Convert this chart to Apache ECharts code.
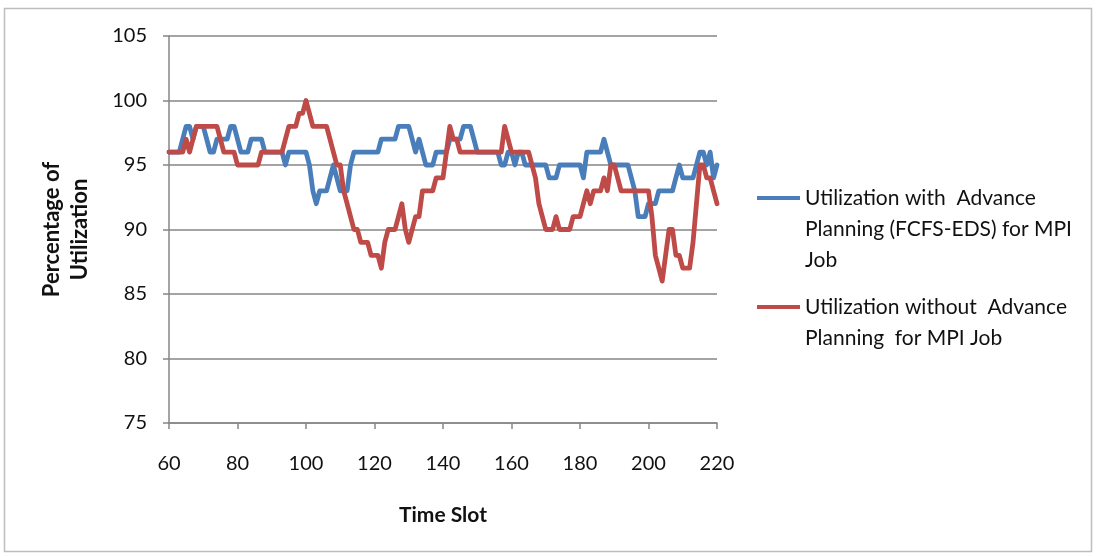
<!DOCTYPE html>
<html>
<head>
<meta charset="utf-8">
<title>Utilization for MPI Job</title>
<script src="https://cdn.jsdelivr.net/npm/echarts@6/dist/echarts.min.js"></script>
<style>
  html, body { margin: 0; padding: 0; background: #ffffff; }
  #chart { width: 1097px; height: 556px; }
</style>
</head>
<body>
<div id="chart"></div>
<script>
// Time slots on the horizontal axis
const timeSlots = [
  60, 61, 62, 63, 64, 65, 66, 67, 68, 69,
  70, 71, 72, 73, 74, 75, 76, 77, 78, 79,
  80, 81, 82, 83, 84, 85, 86, 87, 88, 89,
  90, 91, 92, 93, 94, 95, 96, 97, 98, 99,
  100, 101, 102, 103, 104, 105, 106, 107, 108, 109,
  110, 111, 112, 113, 114, 115, 116, 117, 118, 119,
  120, 121, 122, 123, 124, 125, 126, 127, 128, 129,
  130, 131, 132, 133, 134, 135, 136, 137, 138, 139,
  140, 141, 142, 143, 144, 145, 146, 147, 148, 149,
  150, 151, 152, 153, 154, 155, 156, 157, 158, 159,
  160, 161, 162, 163, 164, 165, 166, 167, 168, 169,
  170, 171, 172, 173, 174, 175, 176, 177, 178, 179,
  180, 181, 182, 183, 184, 185, 186, 187, 188, 189,
  190, 191, 192, 193, 194, 195, 196, 197, 198, 199,
  200, 201, 202, 203, 204, 205, 206, 207, 208, 209,
  210, 211, 212, 213, 214, 215, 216, 217, 218, 219,
  220
];

// Utilization (%) with advance planning (FCFS-EDS)
const withPlanning = [
  96, 96, 96, 96, 97, 98, 98, 97, 98, 98,
  98, 97, 96, 96, 97, 97, 97, 97, 98, 98,
  97, 96, 96, 96, 97, 97, 97, 97, 96, 96,
  96, 96, 96, 96, 95, 96, 96, 96, 96, 96,
  96, 95, 93, 92, 93, 93, 93, 94, 95, 94,
  93, 93, 93, 95, 96, 96, 96, 96, 96, 96,
  96, 96, 97, 97, 97, 97, 97, 98, 98, 98,
  98, 97, 96, 97, 96, 95, 95, 95, 96, 96,
  96, 96, 97, 97, 97, 97, 98, 98, 98, 97,
  96, 96, 96, 96, 96, 96, 96, 95, 95, 96,
  96, 95, 96, 96, 95, 95, 95, 95, 95, 95,
  95, 94, 94, 94, 95, 95, 95, 95, 95, 95,
  95, 94, 96, 96, 96, 96, 96, 97, 96, 95,
  95, 95, 95, 95, 95, 94, 93, 91, 91, 91,
  92, 92, 92, 93, 93, 93, 93, 93, 94, 95,
  94, 94, 94, 94, 95, 96, 96, 95, 96, 94,
  95
];

// Utilization (%) without advance planning
const withoutPlanning = [
  96, 96, 96, 96, 96, 97, 96, 97, 98, 98,
  98, 98, 98, 98, 98, 97, 96, 96, 96, 96,
  95, 95, 95, 95, 95, 95, 95, 96, 96, 96,
  96, 96, 96, 96, 97, 98, 98, 98, 99, 99,
  100, 99, 98, 98, 98, 98, 98, 97, 96, 95,
  95, 93, 92, 91, 90, 90, 89, 89, 89, 88,
  88, 88, 87, 89, 90, 90, 90, 91, 92, 90,
  89, 90, 91, 91, 93, 93, 93, 93, 94, 94,
  94, 96, 98, 97, 97, 96, 96, 96, 96, 96,
  96, 96, 96, 96, 96, 96, 96, 96, 98, 97,
  96, 96, 96, 96, 96, 96, 95, 94, 92, 91,
  90, 90, 90, 91, 90, 90, 90, 90, 91, 91,
  91, 92, 93, 92, 93, 93, 93, 94, 93, 95,
  95, 94, 93, 93, 93, 93, 93, 93, 93, 93,
  93, 91, 88, 87, 86, 88, 90, 90, 88, 88,
  87, 87, 87, 89, 92, 95, 95, 94, 94, 93,
  92
];

// Axis ticks
const xTicks = { min: 60, max: 220, interval: 20 };
const yTicks = { min: 75, max: 105, interval: 5 };

const seriesNames = [
  'Utilization with  Advance\nPlanning (FCFS-EDS) for MPI\nJob',
  'Utilization without  Advance\nPlanning  for MPI Job'
];
const seriesColors = ['#4a7ebb', '#be4b48'];

const FONT = 'Lato, "Open Sans", "Noto Sans", sans-serif';
const TEXT_COLOR = '#111111';
const AXIS_COLOR = '#868686';
const LINE_H = 31;

const chart = echarts.init(document.getElementById('chart'), null, { renderer: 'canvas' });

// One legend per series; the text block is centred on the marker, so blank
// lines are prepended to bring the marker level with the first text line.
function legendFor(index, markerY) {
  const lines = seriesNames[index].split('\n').length;
  const lead = lines - 1;
  const total = lines + lead;
  return {
    show: true,
    orient: 'vertical',
    left: 757,
    top: markerY - total * LINE_H / 2,
    padding: 0,
    icon: 'rect',
    itemWidth: 43,
    itemHeight: 4,
    selectedMode: false,
    formatter: name => '\n'.repeat(lead) + name,
    textStyle: {
      fontFamily: FONT,
      fontSize: 21,
      color: TEXT_COLOR,
      lineHeight: LINE_H
    },
    data: [seriesNames[index]]
  };
}

const option = {
  animation: false,
  backgroundColor: '#ffffff',
  textStyle: { fontFamily: FONT },
  graphic: [{
    type: 'rect',
    shape: { x: 4.5, y: 8.5, width: 1087, height: 543 },
    style: { fill: 'none', stroke: '#bdbdbd', lineWidth: 1.5 },
    silent: true
  }],
  grid: {
    left: 169,
    right: 1097 - 717,
    top: 36,
    bottom: 556 - 423,
    containLabel: false
  },
  legend: [
    legendFor(0, 198),
    legendFor(1, 307)
  ],
  xAxis: {
    type: 'value',
    min: xTicks.min,
    max: xTicks.max,
    interval: xTicks.interval,
    name: 'Time Slot',
    nameLocation: 'middle',
    nameGap: 82,
    nameTextStyle: {
      fontFamily: FONT,
      fontSize: 21,
      fontWeight: 'bold',
      color: TEXT_COLOR
    },
    axisLine: { show: true, lineStyle: { color: AXIS_COLOR, width: 1.5 } },
    axisTick: { show: true, inside: false, length: 6, lineStyle: { color: AXIS_COLOR, width: 1.5 } },
    axisLabel: {
      margin: 31,
      fontFamily: FONT,
      fontSize: 20,
      color: TEXT_COLOR
    },
    splitLine: { show: false }
  },
  yAxis: {
    type: 'value',
    min: yTicks.min,
    max: yTicks.max,
    interval: yTicks.interval,
    name: 'Percentage of\nUtilization',
    nameLocation: 'middle',
    nameRotate: 90,
    nameGap: 75,
    nameTextStyle: {
      fontFamily: FONT,
      fontSize: 22,
      fontWeight: 'bold',
      color: TEXT_COLOR,
      lineHeight: 28
    },
    axisLine: { show: true, lineStyle: { color: AXIS_COLOR, width: 1.5 } },
    axisTick: { show: true, inside: false, length: 6, lineStyle: { color: AXIS_COLOR, width: 1.5 } },
    axisLabel: {
      margin: 22,
      fontFamily: FONT,
      fontSize: 20,
      color: TEXT_COLOR
    },
    splitLine: { show: true, lineStyle: { color: AXIS_COLOR, width: 1.5 } }
  },
  series: [
    {
      name: seriesNames[0],
      type: 'line',
      symbol: 'none',
      showSymbol: false,
      color: seriesColors[0],
      lineStyle: { color: seriesColors[0], width: 4.8, join: 'round', cap: 'round' },
      data: timeSlots.map((t, i) => [t, withPlanning[i]]),
      z: 3
    },
    {
      name: seriesNames[1],
      type: 'line',
      symbol: 'none',
      showSymbol: false,
      color: seriesColors[1],
      lineStyle: { color: seriesColors[1], width: 4.8, join: 'round', cap: 'round' },
      data: timeSlots.map((t, i) => [t, withoutPlanning[i]]),
      z: 4
    }
  ]
};

chart.setOption(option);
</script>
</body>
</html>
